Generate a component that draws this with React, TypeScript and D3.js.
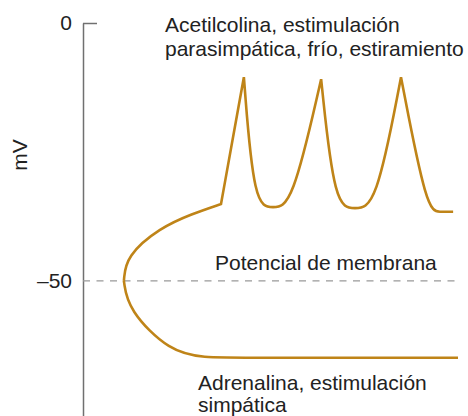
import { useRef, useEffect } from 'react';
import * as d3 from 'd3';

type Punto = [number, number]; // [tiempo (u.a.), potencial (mV)]

// potencial de membrana de partida, común a las dos respuestas
const reposo: Punto = [10.9, -50];

// despolarización lenta hasta el umbral (puntos de control)
const rampa: Punto[] = [[11.5, -45.2], [20.5, -39.7], [29.1, -37.0]];
const umbral: Punto = [36.8, -35.1];

// picos de los potenciales de acción
const picos: Punto[] = [[42.9, -10.5], [63.5, -10.9], [84.8, -10.5]];

// valles entre espigas y cola final (puntos de control)
const valles: Punto[][] = [
  [[45.6, -35.7], [50.7, -35.7], [55.7, -35.7]],
  [[67.1, -35.9], [72.5, -35.9], [78.1, -35.9]],
  [[91.7, -36.6], [95.2, -36.6]],
];
const finDespolarizacion: Punto = [98.7, -36.6];

// hiperpolarización (adrenalina)
const caida: Punto[] = [[12.0, -55.6], [23.2, -63.8], [32.5, -64.9], [41.6, -64.9]];
const finHiperpolarizacion: Punto = [100, -64.9];

const ticksY = [0, -50];
const etiquetasY = ['0', '–50'];

const W = 468;
const H = 416;
const FUENTE = '"Liberation Sans", Arial, Helvetica, sans-serif';
const COLOR = '#bf8418';
const TEXTO = '#222';

export default function App() {
  const ref = useRef<SVGSVGElement>(null);

  useEffect(() => {
    if (!ref.current) return;
    const svg = d3.select(ref.current);
    svg.selectAll('*').remove();

    const x = d3.scaleLinear().domain([0, 100]).range([83, 458]);
    const y = d3.scaleLinear().domain([0, -76.2]).range([23, 416]);

    // un vértice repetido tres veces queda como esquina viva en la B-spline
    const esquina = (p: Punto): Punto[] => [p, p, p];

    const trazoAch: Punto[] = [...esquina(reposo), ...rampa, ...esquina(umbral)];
    picos.forEach((p, i) => {
      trazoAch.push(...esquina(p), ...valles[i]);
    });
    trazoAch.push(...esquina(finDespolarizacion));

    const trazoAdr: Punto[] = [...esquina(reposo), ...caida, ...esquina(finHiperpolarizacion)];

    const linea = d3.line<Punto>()
      .x(d => x(d[0]))
      .y(d => y(d[1]))
      .curve(d3.curveBasis);

    // eje vertical
    const eje = svg.append('g')
      .attr('transform', `translate(${x(0)},0)`)
      .call(d3.axisLeft(y)
        .tickValues(ticksY)
        .tickFormat((_, i) => etiquetasY[i])
        .tickSize(-14)
        .tickSizeOuter(0)
        .tickPadding(11));

    eje.select('.domain').attr('stroke', '#707070').attr('stroke-width', 1.5);
    eje.selectAll('.tick line').attr('stroke', '#707070').attr('stroke-width', 1.5);
    eje.selectAll('.tick').filter(d => d === -50).select('line').remove();
    eje.selectAll('.tick text')
      .attr('font-size', 21)
      .attr('font-family', FUENTE)
      .attr('fill', TEXTO);

    svg.append('text')
      .attr('transform', `translate(27,${155}) rotate(-90)`)
      .attr('text-anchor', 'middle')
      .attr('font-size', 21)
      .attr('font-family', FUENTE)
      .attr('fill', TEXTO)
      .text('mV');

    // línea del potencial de membrana
    svg.append('line')
      .attr('x1', x(0))
      .attr('x2', x(100))
      .attr('y1', y(-50))
      .attr('y2', y(-50))
      .attr('stroke', '#999')
      .attr('stroke-width', 1.2)
      .attr('stroke-dasharray', '7,6.5');

    svg.append('path')
      .attr('d', linea(trazoAch))
      .attr('fill', 'none')
      .attr('stroke', COLOR)
      .attr('stroke-width', 2.6);

    svg.append('path')
      .attr('d', linea(trazoAdr))
      .attr('fill', 'none')
      .attr('stroke', COLOR)
      .attr('stroke-width', 2.6);

    const rotulos: [string, number, number][] = [
      ['Acetilcolina, estimulación', 165, 32],
      ['parasimpática, frío, estiramiento', 165, 56],
      ['Potencial de membrana', 215, 270],
      ['Adrenalina, estimulación', 198, 390],
      ['simpática', 198, 412],
    ];
    svg.selectAll('text.rotulo')
      .data(rotulos)
      .join('text')
      .attr('class', 'rotulo')
      .attr('x', d => d[1])
      .attr('y', d => d[2])
      .attr('font-size', 21)
      .attr('font-family', FUENTE)
      .attr('fill', TEXTO)
      .text(d => d[0]);
  }, []);

  return (
    <svg
      ref={ref}
      width={W}
      height={H}
      style={{ position: 'absolute', left: 0, top: 0, display: 'block', background: '#fff' }}
    />
  );
}
